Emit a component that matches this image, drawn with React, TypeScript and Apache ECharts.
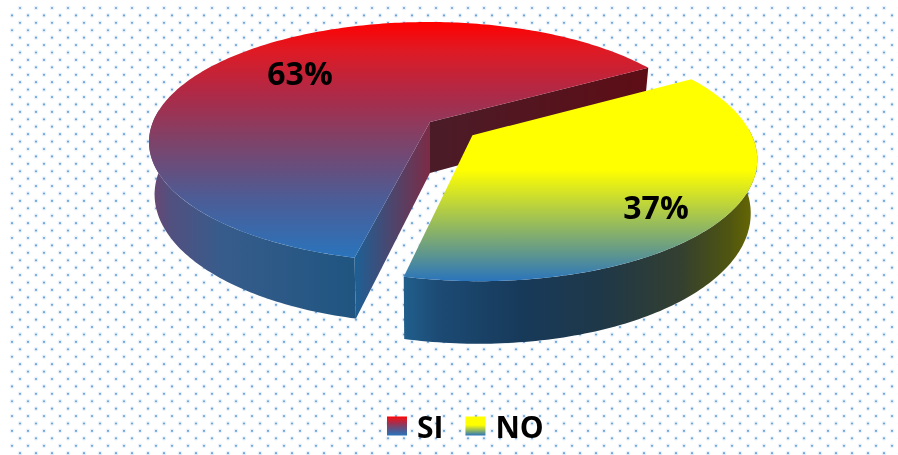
import React, { useEffect, useRef } from "react";
import * as echarts from "echarts";

const categories = ["SI", "NO"];
const shares = [63, 37];
const percentLabels = ["63%", "37%"];

const W = 898;
const H = 455;
const CX = 428.5;
const CY = 142;
const RX = 279.5;
const RY = 120;
const A = -1 / 6; // perspective of the disc
const S = Math.sqrt(1 - A * A);
const DEPTH = 51;
const NO_START = -30.2;
const EXPLODE = 0.188;
const APEX_SKEW = 1.5;
const BOTTOM_INSET = 0.02;
const SI_WALL_END = 186;
const NO_WALL_START = -3;
const FONT = "'Open Sans', sans-serif";

type P = [number, number];
const project = (u: number, v: number, drop = false): P => {
  const den = 1 + A * v;
  const skew = APEX_SKEW * Math.max(0, 1 - u * u - v * v);
  let x = CX + (RX * u * S) / den + skew;
  const y = CY + (RY * (v + A)) / den + (drop ? DEPTH / den : 0);
  if (drop) x -= (x - CX) * BOTTOM_INSET;
  return [x, y];
};
const rim = (deg: number, ox: number, oy: number, drop = false): P => {
  const r = (deg * Math.PI) / 180;
  return project(Math.cos(r) + ox, Math.sin(r) + oy, drop);
};
const arc = (a0: number, a1: number, ox: number, oy: number, drop = false): P[] => {
  const pts: P[] = [];
  const n = Math.max(2, Math.ceil(Math.abs(a1 - a0)));
  for (let i = 0; i <= n; i++) pts.push(rim(a0 + ((a1 - a0) * i) / n, ox, oy, drop));
  return pts;
};
const vGrad = (stops: [number, string][]) =>
  new echarts.graphic.LinearGradient(0, 0, 0, 1, stops.map(([offset, color]) => ({ offset, color })));
const hGrad = (stops: [number, string][]) =>
  new echarts.graphic.LinearGradient(0, 0, 1, 0, stops.map(([offset, color]) => ({ offset, color })));

const siTop: [number, string][] = [
  [0, "#ff0000"],
  [0.12, "#df1a24"],
  [0.31, "#ad2a48"],
  [0.5, "#7f4268"],
  [0.75, "#4c5c96"],
  [1, "#2a74bc"],
];
const noTop: [number, string][] = [[0, "#ffff00"], [0.45, "#ffff00"], [1, "#2a74bc"]];

const poly = (points: P[], fill: any) => ({
  type: "polygon",
  silent: true,
  shape: { points },
  style: { fill, stroke: null },
});
const label = (text: string, x: number, y: number) => ({
  type: "text",
  silent: true,
  style: {
    text,
    x,
    y,
    fill: "#000",
    font: `bold 32px ${FONT}`,
    textAlign: "center",
    textVerticalAlign: "middle",
  },
});

const total = shares.reduce((a, b) => a + b, 0);

const renderSi = (_p: any, api: any) => {
  const sweep = (api.value(0) / total) * 360;
  const start = NO_START + (shares[1] / total) * 360;
  const end = start + sweep;
  const apex = project(0, 0);
  const apexLow = project(0, 0, true);
  const outerWall = [...arc(start, SI_WALL_END, 0, 0), ...arc(SI_WALL_END, start, 0, 0, true)];
  const frontWall = [apex, rim(start, 0, 0), rim(start, 0, 0, true), apexLow];
  const backWall = [apex, rim(end, 0, 0), rim(end, 0, 0, true), apexLow];
  const top = [apex, ...arc(start, end, 0, 0)];
  return {
    type: "group",
    children: [
      poly(outerWall, hGrad([[0, "#6f4470"], [0.1, "#52507f"], [0.35, "#375c8c"], [1, "#1f5580"]])),
      poly(backWall, hGrad([[0, "#4a1c28"], [1, "#5e0d15"]])),
      poly(frontWall, hGrad([[0, "#1d6095"], [1, "#7d2b45"]])),
      poly(top, vGrad(siTop)),
      label(percentLabels[0], 300, 72),
    ],
  };
};

const renderNo = (_p: any, api: any) => {
  const sweep = (api.value(0) / total) * 360;
  const mid = ((NO_START + sweep / 2) * Math.PI) / 180;
  const ox = EXPLODE * Math.cos(mid);
  const oy = EXPLODE * Math.sin(mid);
  const end = NO_START + sweep;
  const apex = project(ox, oy);
  const wall = [...arc(NO_WALL_START, end, ox, oy), ...arc(end, NO_WALL_START, ox, oy, true)];
  const top = [apex, ...arc(NO_START, end, ox, oy)];
  return {
    type: "group",
    children: [
      poly(wall, hGrad([[0, "#215f8c"], [0.1, "#1c4a74"], [0.33, "#173a5a"], [0.56, "#1f3848"], [0.78, "#333f30"], [0.92, "#4f5510"], [1, "#6b6b00"]])),
      poly(top, vGrad(noTop)),
      label(percentLabels[1], 656, 206),
    ],
  };
};

const dotTile = () => {
  const stepY = 7.42;
  const rows = 50;
  const c = document.createElement("canvas");
  c.width = 16;
  c.height = Math.round(stepY * rows);
  const g = c.getContext("2d")!;
  for (let r = 0; r <= rows; r++) {
    const y = 8 - stepY + stepY * r;
    const x = r % 2 === 0 ? 12 : 4;
    g.fillStyle = "rgba(111,165,220,0.14)";
    g.beginPath();
    g.arc(x, y, 2.4, 0, Math.PI * 2);
    g.fill();
    g.fillStyle = "#6fa5dc";
    g.beginPath();
    g.arc(x, y, 1.1, 0, Math.PI * 2);
    g.fill();
  }
  return c;
};

export default function App() {
  const ref = useRef<HTMLDivElement>(null);
  useEffect(() => {
    document.body.style.margin = "0";
    const chart = echarts.init(ref.current!, undefined, { renderer: "svg" });
    const tile = dotTile();
    chart.setOption({
      animation: false,
      backgroundColor: "#ffffff",
      graphic: [
        {
          type: "rect",
          silent: true,
          z: 0,
          shape: { x: 8, y: 4, width: W - 8, height: H - 4 },
          style: {
            fill: { image: tile, repeat: "repeat", imageWidth: tile.width, imageHeight: tile.height },
          },
        },
      ],
      legend: {
        left: 387,
        top: 411,
        icon: "rect",
        itemWidth: 20,
        itemHeight: 19,
        itemGap: 22,
        selectedMode: false,
        padding: 0,
        textStyle: {
          color: "#000",
          fontFamily: FONT,
          fontWeight: "bold",
          fontSize: 30,
          padding: [0, 0, 4, 5],
        },
        data: [
          { name: categories[0], itemStyle: { color: vGrad(siTop) } },
          { name: categories[1], itemStyle: { color: vGrad(noTop) } },
        ],
      },
      series: [
        { type: "custom", name: categories[0], coordinateSystem: "none", z: 2, renderItem: renderSi, data: [[shares[0]]] },
        { type: "custom", name: categories[1], coordinateSystem: "none", z: 3, renderItem: renderNo, data: [[shares[1]]] },
      ],
    });
    return () => chart.dispose();
  }, []);
  return <div ref={ref} style={{ width: W, height: H, filter: "blur(0.4px)" }} />;
}
